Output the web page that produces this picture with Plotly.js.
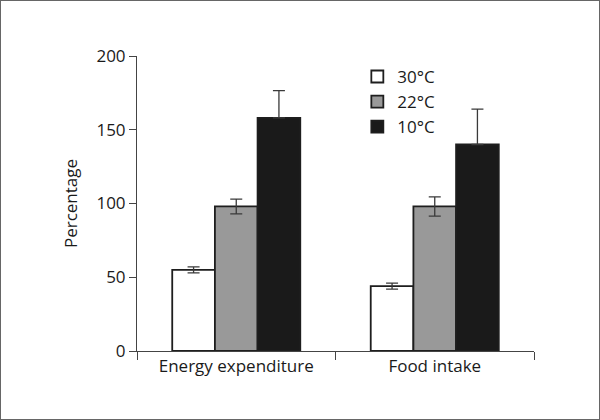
<!DOCTYPE html>
<html>
<head>
<meta charset="utf-8">
<script src="https://cdn.plot.ly/plotly-3.0.1.min.js"></script>
<style>
  html, body { margin: 0; padding: 0; background: #fff; }
  #wrap { width: 600px; height: 420px; box-sizing: border-box; border: 1px solid #666; }
  #chart { width: 598px; height: 418px; }
</style>
</head>
<body>
<div id="wrap"><div id="chart"></div></div>
<script>
const categories = ["Energy expenditure", "Food intake"];
const seriesNames = ["30°C", "22°C", "10°C"];
const values30 = [55, 44];
const err30 = [2, 2];
const values22 = [98, 98];
const err22 = [5, 6.5];
const values10 = [158, 140];
const err10 = [18.5, 24];
const yTicks = [0, 50, 100, 150, 200];

const fills = ["#ffffff", "#999999", "#1a1a1a"];
const vals = [values30, values22, values10];
const errs = [err30, err22, err10];

const traces = seriesNames.map((name, i) => {
  const errSpec = { type: "data", array: errs[i], visible: true, color: "#3a3a3a", thickness: 1.3, width: 6 };
  if (i === 2) {
    // lower half of these whiskers is hidden behind the black bar in the reference
    errSpec.symmetric = false;
    errSpec.arrayminus = errs[i].map(() => 0);
  }
  return {
    type: "bar",
    name: name,
    x: categories,
    y: vals[i],
    marker: { color: fills[i], line: { color: "#1e1e1e", width: 1.8 } },
    error_y: errSpec
  };
});

const font = { family: "Open Sans, Noto Sans, sans-serif", size: 17, color: "#1a1a1a" };

const layout = {
  width: 598, height: 418,
  margin: { l: 136, r: 65, t: 55, b: 68 },
  paper_bgcolor: "#fff", plot_bgcolor: "#fff",
  font: font,
  barmode: "group",
  bargap: 0.355,
  bargroupgap: 0,
  showlegend: true,
  legend: {
    x: 0.555, y: 0.99, xanchor: "left", yanchor: "top",
    font: font, bgcolor: "rgba(0,0,0,0)",
    traceorder: "normal", itemwidth: 30, tracegroupgap: 0
  },
  xaxis: {
    type: "category",
    range: [-0.5, 1.5],
    showline: true, linecolor: "#444", linewidth: 1,
    ticks: "outside", tickson: "boundaries", ticklen: 8, tickcolor: "#444",
    showgrid: false, zeroline: false,
    tickfont: font
  },
  yaxis: {
    range: [0, 200],
    tickvals: yTicks,
    showline: true, linecolor: "#444", linewidth: 1,
    ticks: "outside", ticklen: 7, tickcolor: "#444",
    showgrid: false, zeroline: false,
    tickfont: font,
    title: { text: "Percentage", font: font, standoff: 14 }
  }
};

Plotly.newPlot("chart", traces, layout, { displayModeBar: false, staticPlot: true });
</script>
</body>
</html>
